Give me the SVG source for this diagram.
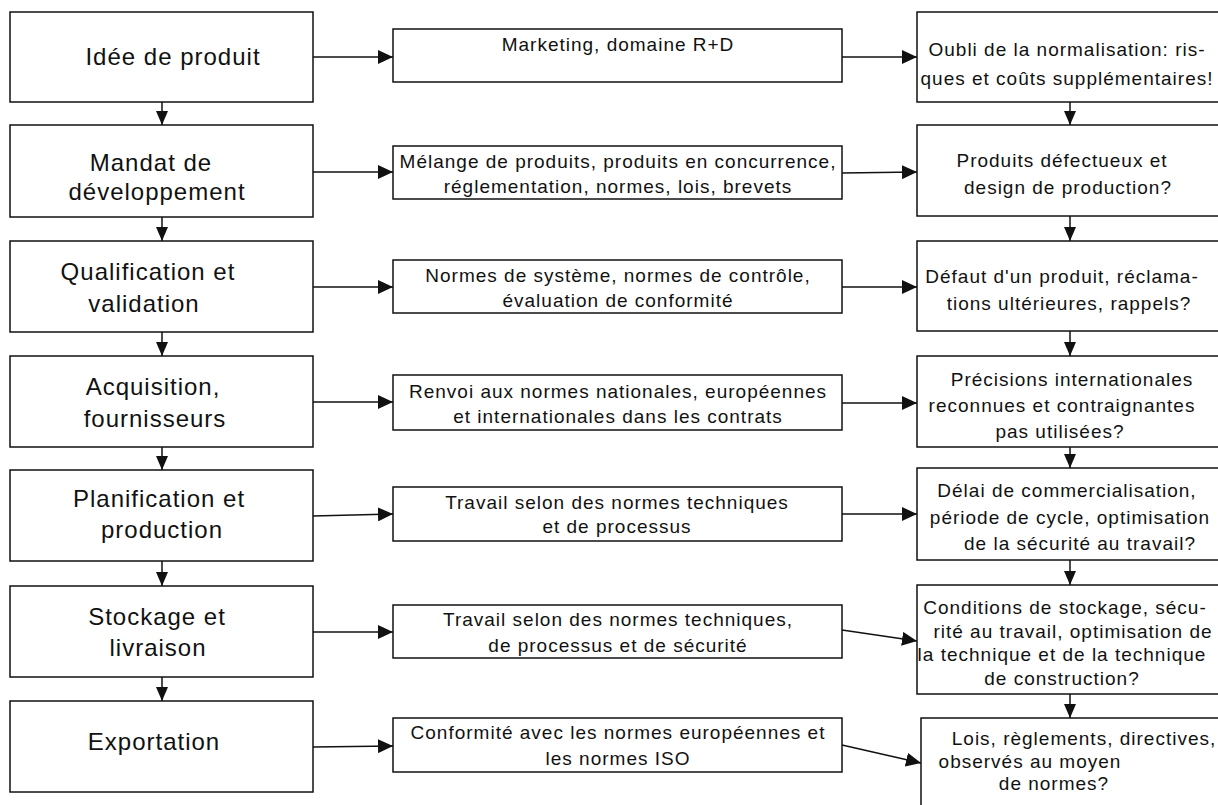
<svg xmlns="http://www.w3.org/2000/svg" width="1218" height="805" viewBox="0 0 1218 805">
<style>
  .box { fill: #fff; stroke: #111; stroke-width: 1.5; }
  .con { fill: none; stroke: #111; stroke-width: 1.5; }
  text { font-family: "Liberation Sans", Arial, sans-serif; fill: #111; text-anchor: middle; }
  .l { font-size: 24px; letter-spacing: 1px; }
  .s { font-size: 19px; letter-spacing: 1px; }
</style>
<defs>
  <marker id="ah" markerUnits="userSpaceOnUse" markerWidth="15" markerHeight="14" refX="15" refY="7" orient="auto">
    <path d="M0,0 L15,7 L0,14 z" fill="#111"/>
  </marker>
  <marker id="av" markerUnits="userSpaceOnUse" markerWidth="14" markerHeight="12" refX="14" refY="6" orient="auto">
    <path d="M0,0 L14,6 L0,12 z" fill="#111"/>
  </marker>
</defs>
<rect width="1218" height="805" fill="#fff"/>

<g id="connectors">
  <line class="con" x1="162" y1="102" x2="162" y2="125" marker-end="url(#av)"/>
  <line class="con" x1="162" y1="217" x2="162" y2="241" marker-end="url(#av)"/>
  <line class="con" x1="162" y1="332" x2="162" y2="356" marker-end="url(#av)"/>
  <line class="con" x1="162" y1="447" x2="162" y2="470" marker-end="url(#av)"/>
  <line class="con" x1="162" y1="561" x2="162" y2="586" marker-end="url(#av)"/>
  <line class="con" x1="162" y1="677" x2="162" y2="701" marker-end="url(#av)"/>

  <line class="con" x1="1070" y1="102" x2="1070" y2="125" marker-end="url(#av)"/>
  <line class="con" x1="1070" y1="216" x2="1070" y2="241" marker-end="url(#av)"/>
  <line class="con" x1="1070" y1="331" x2="1070" y2="356" marker-end="url(#av)"/>
  <line class="con" x1="1070" y1="447" x2="1070" y2="468" marker-end="url(#av)"/>
  <line class="con" x1="1070" y1="560" x2="1070" y2="585" marker-end="url(#av)"/>
  <line class="con" x1="1070" y1="694" x2="1070" y2="718" marker-end="url(#av)"/>

  <line class="con" x1="313" y1="57" x2="393" y2="57" marker-end="url(#ah)"/>
  <line class="con" x1="313" y1="172" x2="393" y2="172" marker-end="url(#ah)"/>
  <line class="con" x1="313" y1="287" x2="393" y2="287" marker-end="url(#ah)"/>
  <line class="con" x1="313" y1="402" x2="393" y2="402" marker-end="url(#ah)"/>
  <line class="con" x1="313" y1="516" x2="393" y2="514" marker-end="url(#ah)"/>
  <line class="con" x1="313" y1="632" x2="393" y2="632" marker-end="url(#ah)"/>
  <line class="con" x1="313" y1="747" x2="393" y2="746" marker-end="url(#ah)"/>

  <line class="con" x1="842" y1="57" x2="917" y2="57" marker-end="url(#ah)"/>
  <line class="con" x1="842" y1="173" x2="917" y2="172" marker-end="url(#ah)"/>
  <line class="con" x1="842" y1="287" x2="917" y2="287" marker-end="url(#ah)"/>
  <line class="con" x1="842" y1="403" x2="917" y2="403" marker-end="url(#ah)"/>
  <line class="con" x1="842" y1="514" x2="917" y2="514" marker-end="url(#ah)"/>
  <line class="con" x1="842" y1="630" x2="917" y2="641" marker-end="url(#ah)"/>
  <line class="con" x1="842" y1="745" x2="921" y2="763" marker-end="url(#ah)"/>
</g>

<!-- Left column -->
<g id="idee">
  <rect class="box" x="10" y="12" width="303" height="90"/>
  <text class="l" x="173" y="65">Idée de produit</text>
</g>
<g id="mandat">
  <rect class="box" x="10" y="125" width="303" height="92"/>
  <text class="l" x="151" y="171">Mandat de</text>
  <text class="l" x="157" y="200">développement</text>
</g>
<g id="qualification">
  <rect class="box" x="10" y="241" width="303" height="91"/>
  <text class="l" x="148" y="280">Qualification et</text>
  <text class="l" x="144" y="312">validation</text>
</g>
<g id="acquisition">
  <rect class="box" x="10" y="356" width="303" height="91"/>
  <text class="l" x="153" y="395">Acquisition,</text>
  <text class="l" x="155" y="427">fournisseurs</text>
</g>
<g id="planification">
  <rect class="box" x="10" y="470" width="303" height="91"/>
  <text class="l" x="159" y="507">Planification et</text>
  <text class="l" x="162" y="538">production</text>
</g>
<g id="stockage">
  <rect class="box" x="10" y="586" width="303" height="91"/>
  <text class="l" x="157" y="625">Stockage et</text>
  <text class="l" x="158" y="656">livraison</text>
</g>
<g id="exportation">
  <rect class="box" x="10" y="701" width="303" height="91"/>
  <text class="l" x="154" y="750">Exportation</text>
</g>

<!-- Middle column -->
<g id="m1">
  <rect class="box" x="393" y="29" width="449" height="53"/>
  <text class="s" x="618" y="51">Marketing, domaine R+D</text>
</g>
<g id="m2">
  <rect class="box" x="393" y="146" width="449" height="53"/>
  <text class="s" x="618" y="168">Mélange de produits, produits en concurrence,</text>
  <text class="s" x="618" y="193">réglementation, normes, lois, brevets</text>
</g>
<g id="m3">
  <rect class="box" x="393" y="260" width="449" height="53"/>
  <text class="s" x="618" y="282">Normes de système, normes de contrôle,</text>
  <text class="s" x="618" y="307">évaluation de conformité</text>
</g>
<g id="m4">
  <rect class="box" x="393" y="375" width="449" height="55"/>
  <text class="s" x="618" y="398">Renvoi aux normes nationales, européennes</text>
  <text class="s" x="618" y="423">et internationales dans les contrats</text>
</g>
<g id="m5">
  <rect class="box" x="393" y="487" width="449" height="54"/>
  <text class="s" x="617" y="509">Travail selon des normes techniques</text>
  <text class="s" x="617" y="533">et de processus</text>
</g>
<g id="m6">
  <rect class="box" x="393" y="605" width="449" height="53"/>
  <text class="s" x="618" y="626">Travail selon des normes techniques,</text>
  <text class="s" x="618" y="652">de processus et de sécurité</text>
</g>
<g id="m7">
  <rect class="box" x="393" y="718" width="449" height="54"/>
  <text class="s" x="618" y="739">Conformité avec les normes européennes et</text>
  <text class="s" x="618" y="765">les normes ISO</text>
</g>

<!-- Right column -->
<g id="r1">
  <rect class="box" x="917" y="12" width="320" height="90"/>
  <text class="s" x="1067" y="56">Oubli de la normalisation: ris-</text>
  <text class="s" x="1067" y="85">ques et coûts supplémentaires!</text>
</g>
<g id="r2">
  <rect class="box" x="917" y="125" width="320" height="91"/>
  <text class="s" x="1062" y="167">Produits défectueux et</text>
  <text class="s" x="1068" y="194">design de production?</text>
</g>
<g id="r3">
  <rect class="box" x="917" y="241" width="320" height="90"/>
  <text class="s" x="1062" y="283">Défaut d'un produit, réclama-</text>
  <text class="s" x="1069" y="310">tions ultérieures, rappels?</text>
</g>
<g id="r4">
  <rect class="box" x="917" y="356" width="320" height="91"/>
  <text class="s" x="1072" y="386">Précisions internationales</text>
  <text class="s" x="1062" y="412">reconnues et contraignantes</text>
  <text class="s" x="1060" y="438">pas utilisées?</text>
</g>
<g id="r5">
  <rect class="box" x="917" y="468" width="320" height="92"/>
  <text class="s" x="1067" y="497">Délai de commercialisation,</text>
  <text class="s" x="1070" y="524">période de cycle, optimisation</text>
  <text class="s" x="1080" y="550">de la sécurité au travail?</text>
</g>
<g id="r6">
  <rect class="box" x="917" y="585" width="320" height="109"/>
  <text class="s" x="1065" y="614">Conditions de stockage, sécu-</text>
  <text class="s" x="1073" y="638">rité au travail, optimisation de</text>
  <text class="s" x="1062" y="661">la technique et de la technique</text>
  <text class="s" x="1062" y="685">de construction?</text>
</g>
<g id="r7">
  <rect class="box" x="921" y="718" width="320" height="110"/>
  <text class="s" x="1084" y="745">Lois, règlements, directives,</text>
  <text class="s" x="1030" y="768">observés au moyen</text>
  <text class="s" x="1054" y="790">de normes?</text>
</g>
</svg>
